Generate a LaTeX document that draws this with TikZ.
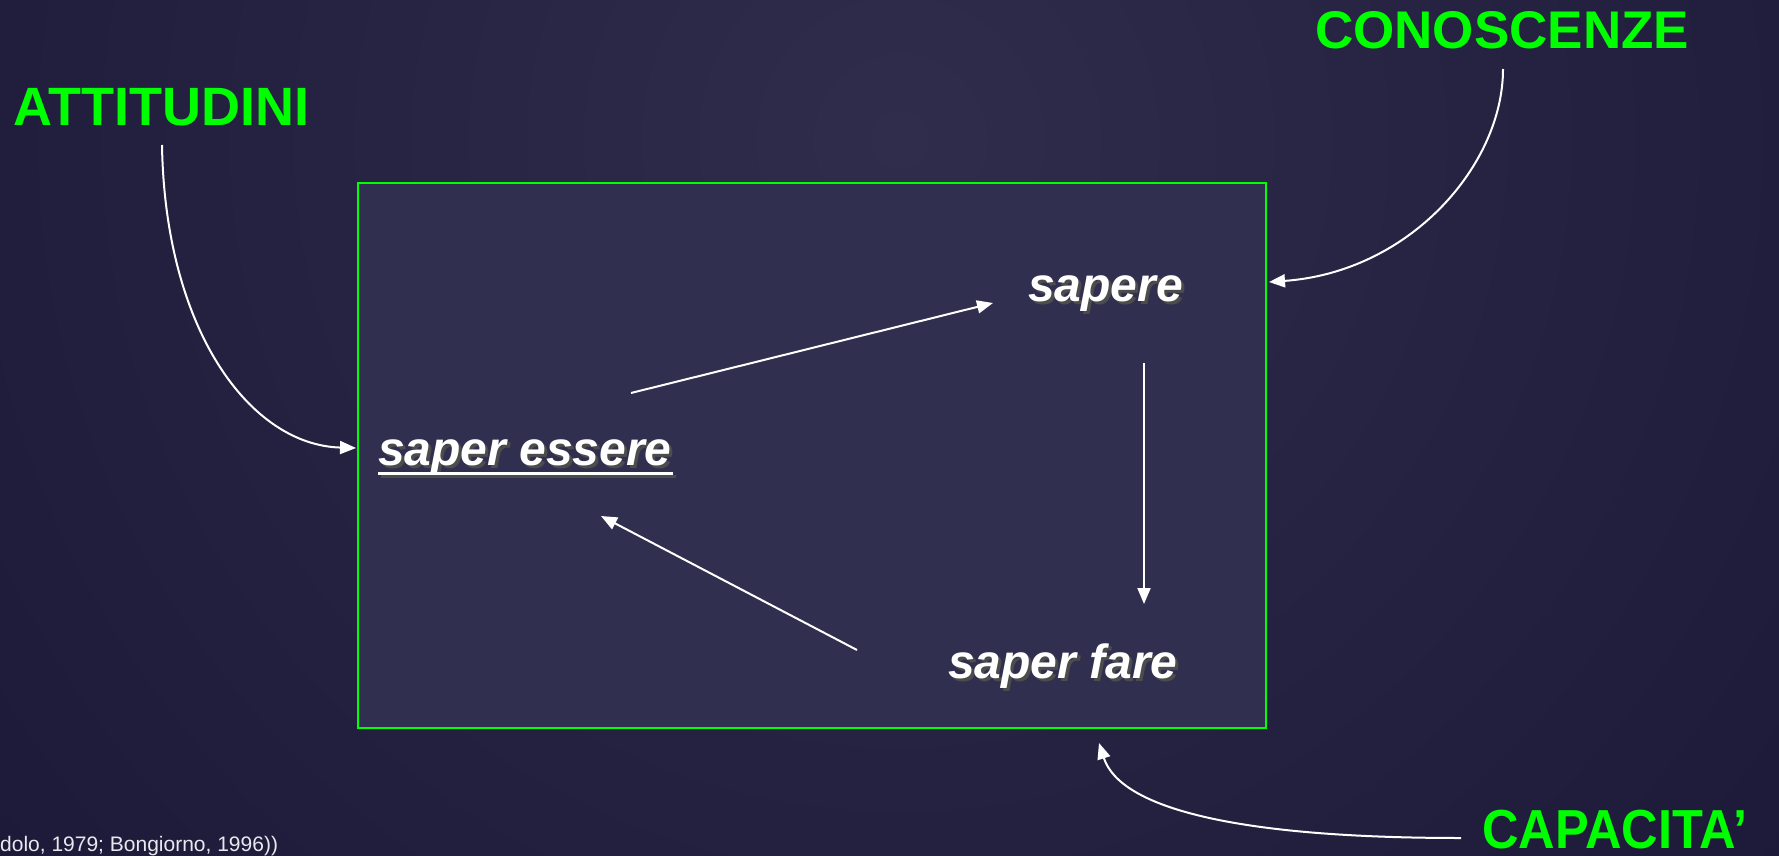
\documentclass[tikz,border=0pt]{standalone}
\usepackage{fontspec}
\setmainfont{Liberation Sans}
\usetikzlibrary{arrows.meta}
\definecolor{bgout}{HTML}{1C1A38}
\definecolor{bgin}{HTML}{302C4C}
\definecolor{boxfill}{HTML}{302F4F}
\definecolor{lime}{HTML}{00FF00}
\definecolor{reftext}{HTML}{E8E8EE}
\tikzset{
  lbl/.style={text=lime, font=\bfseries\fontsize{54}{60}\selectfont, inner sep=0pt, anchor=base west},
  itl/.style={text=white, font=\bfseries\itshape\fontsize{48}{54}\selectfont, inner sep=0pt, anchor=base west},
  shd/.style={itl, text=black!70},
  arr/.style={draw=white, line width=2pt, -{Triangle[length=16pt,width=13pt]}},
  frame/.style={draw=lime, line width=2.2pt, fill=boxfill, inner sep=0pt, anchor=north west,
                minimum width=908pt, minimum height=545pt}
}
\begin{document}
\begin{tikzpicture}[x=1pt,y=-1pt]
\useasboundingbox (0,0) rectangle (1779,856);
\fill[bgout] (0,0) rectangle (1779,856);
\begin{scope}
  \clip (0,0) rectangle (1779,856);
  \shade[inner color=bgin, outer color=bgout] (900,140) circle (1150);
\end{scope}

% main frame
\node[frame] (box) at (357,182) {};

% green labels
\node[lbl] (att) at (13,125) {ATTITUDINI};
\node[lbl, font=\bfseries\fontsize{53}{60}\selectfont] (con) at (1315,49) {CONOSCENZE};
\node[lbl, font=\bfseries\fontsize{55}{62}\selectfont, xscale=0.92] (cap) at (1482,848) {CAPACITA’};

% inner texts with shadow
\node[shd] (sesh) at (381,468) {saper essere};
\draw[black!70, line width=3pt] (381,476) -- (676,476);
\node[itl] (se) at (378,465) {saper essere};
\draw[white, line width=3pt] (378,473) -- (673,473);

\node[shd] (sash) at (1031,304) {sapere};
\node[itl] (sa) at (1028,301) {sapere};

\node[shd] (sfsh) at (951,681) {saper fare};
\node[itl] (sf) at (948,678) {saper fare};

% reference text
\node[text=reftext, font=\fontsize{21}{24}\selectfont, inner sep=0pt, anchor=base west] (ref) at (0,851) {dolo, 1979; Bongiorno, 1996))};

% arrow endpoints
\coordinate (a1s) at (631,393);
\coordinate (a1e) at (993,303);
\coordinate (a2s) at (1144,363);
\coordinate (a2e) at (1144,604);
\coordinate (a3s) at (857,650);
\coordinate (a3e) at (601,516);
\coordinate (atts) at (162,145);
\coordinate (atte) at (356,448);
\coordinate (cons) at (1503,69);
\coordinate (cone) at (1269,282);
\coordinate (caps) at (1461,838);
\coordinate (cape) at (1099,743);

\draw[arr] (a1s) -- (a1e);
\draw[arr] (a2s) -- (a2e);
\draw[arr] (a3s) -- (a3e);
\draw[arr] (atts) .. controls (165,330) and (250,445) .. (atte);
\draw[arr] (cons) .. controls (1503,165) and (1410,272) .. (cone);
\draw[arr] (caps) .. controls (1235,838) and (1120,808) .. (cape);
\end{tikzpicture}
\end{document}
